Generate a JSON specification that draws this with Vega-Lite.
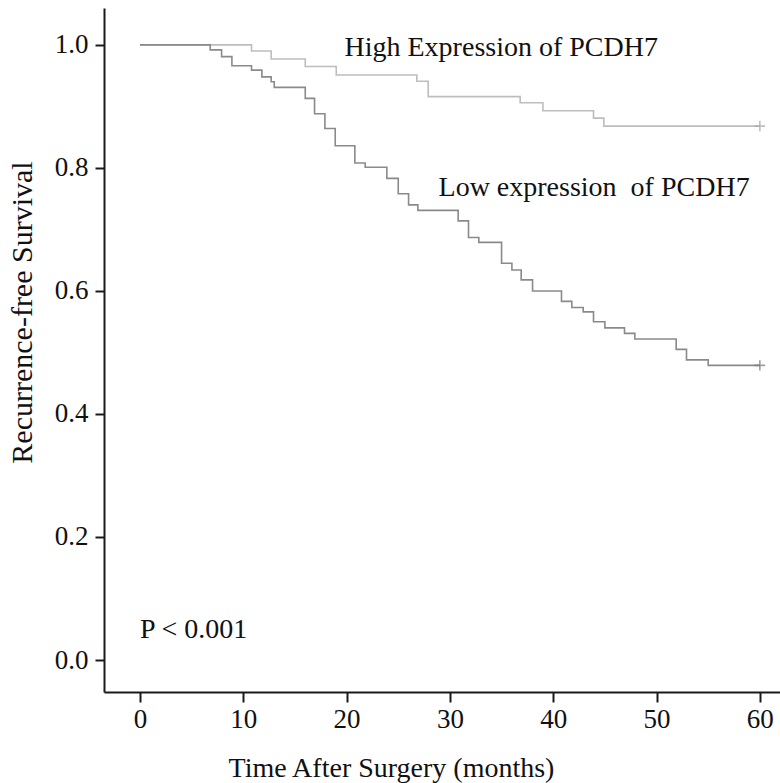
{
  "$schema": "https://vega.github.io/schema/vega-lite/v6.json",
  "width": 676,
  "height": 684,
  "autosize": {"type": "none"},
  "padding": {"left": 104, "top": 8, "right": 0, "bottom": 91},
  "background": "white",
  "config": {
    "view": {"stroke": null},
    "font": "Liberation Serif",
    "axis": {"grid": false, "domainColor": "#1a1a1a", "domainWidth": 2, "tickColor": "#1a1a1a", "tickWidth": 2, "labelFont": "Liberation Serif", "titleFont": "Liberation Serif", "labelColor": "#111", "titleColor": "#111", "labelFontSize": 27, "titleFontSize": 28, "titleFontWeight": "normal"}
  },
  "datasets": {
    "curves": [
      {"group": "High", "time": 0, "surv": 1.0},
      {"group": "High", "time": 10.8, "surv": 0.990},
      {"group": "High", "time": 12.7, "surv": 0.977},
      {"group": "High", "time": 16.0, "surv": 0.965},
      {"group": "High", "time": 19.0, "surv": 0.951},
      {"group": "High", "time": 26.8, "surv": 0.941},
      {"group": "High", "time": 27.9, "surv": 0.916},
      {"group": "High", "time": 36.8, "surv": 0.906},
      {"group": "High", "time": 39.0, "surv": 0.893},
      {"group": "High", "time": 43.9, "surv": 0.881},
      {"group": "High", "time": 44.9, "surv": 0.868},
      {"group": "High", "time": 60, "surv": 0.868},
      {"group": "Low", "time": 0, "surv": 1.0},
      {"group": "Low", "time": 6.8, "surv": 0.992},
      {"group": "Low", "time": 7.9, "surv": 0.981},
      {"group": "Low", "time": 8.9, "surv": 0.966},
      {"group": "Low", "time": 10.8, "surv": 0.959},
      {"group": "Low", "time": 11.8, "surv": 0.948},
      {"group": "Low", "time": 12.7, "surv": 0.940},
      {"group": "Low", "time": 13.0, "surv": 0.931},
      {"group": "Low", "time": 16.0, "surv": 0.913},
      {"group": "Low", "time": 16.9, "surv": 0.888},
      {"group": "Low", "time": 17.9, "surv": 0.864},
      {"group": "Low", "time": 18.9, "surv": 0.836},
      {"group": "Low", "time": 20.8, "surv": 0.808},
      {"group": "Low", "time": 21.8, "surv": 0.801},
      {"group": "Low", "time": 23.9, "surv": 0.783},
      {"group": "Low", "time": 25.0, "surv": 0.758},
      {"group": "Low", "time": 26.0, "surv": 0.740},
      {"group": "Low", "time": 26.9, "surv": 0.731},
      {"group": "Low", "time": 30.8, "surv": 0.714},
      {"group": "Low", "time": 31.8, "surv": 0.687},
      {"group": "Low", "time": 32.8, "surv": 0.679},
      {"group": "Low", "time": 35.0, "surv": 0.645},
      {"group": "Low", "time": 36.0, "surv": 0.634},
      {"group": "Low", "time": 36.9, "surv": 0.618},
      {"group": "Low", "time": 38.0, "surv": 0.600},
      {"group": "Low", "time": 40.8, "surv": 0.583},
      {"group": "Low", "time": 41.8, "surv": 0.573},
      {"group": "Low", "time": 42.9, "surv": 0.566},
      {"group": "Low", "time": 43.9, "surv": 0.550},
      {"group": "Low", "time": 45.0, "surv": 0.540},
      {"group": "Low", "time": 46.9, "surv": 0.531},
      {"group": "Low", "time": 47.9, "surv": 0.522},
      {"group": "Low", "time": 51.9, "surv": 0.505},
      {"group": "Low", "time": 52.9, "surv": 0.488},
      {"group": "Low", "time": 55.0, "surv": 0.479},
      {"group": "Low", "time": 60, "surv": 0.479}
    ],
    "censors": [
      {"group": "High", "time": 60, "surv": 0.868},
      {"group": "Low", "time": 60, "surv": 0.479}
    ],
    "labels": [
      {"label": "High Expression of PCDH7", "time": 19.8, "surv": 0.995},
      {"label": "Low expression\u00a0 of PCDH7", "time": 28.9, "surv": 0.767},
      {"label": "P < 0.001", "time": 0, "surv": 0.049}
    ]
  },
  "layer": [
    {
      "data": {"name": "curves"},
      "mark": {"type": "line", "interpolate": "step-after", "strokeWidth": 1.6},
      "encoding": {
        "x": {"field": "time", "type": "quantitative", "scale": {"domain": [-3.48, 61.95], "nice": false, "zero": false}, "axis": {"values": [0, 10, 20, 30, 40, 50, 60], "format": "d", "labelFontSize": 27, "labelFont": "Liberation Serif", "tickSize": 10, "labelPadding": 4, "title": "Time After Surgery (months)", "titleX": 287, "titleY": 76, "titleBaseline": "middle", "titleAlign": "center"}},
        "y": {"field": "surv", "type": "quantitative", "scale": {"domain": [-0.052, 1.06], "nice": false, "zero": false}, "axis": {"values": [0, 0.2, 0.4, 0.6, 0.8, 1.0], "format": ".1f", "labelFontSize": 27, "labelFont": "Liberation Serif", "tickSize": 9, "labelPadding": 7, "title": "Recurrence-free Survival", "titleFontSize": 30, "titleX": -82, "titleY": 304, "titleAngle": -90, "titleBaseline": "middle", "titleAlign": "center"}},
        "color": {"field": "group", "type": "nominal", "scale": {"domain": ["High", "Low"], "range": ["#bdbdbd", "#8a8a8a"]}, "legend": null}
      }
    },
    {
      "data": {"name": "censors"},
      "mark": {"type": "point", "shape": "M-1,0H1M0,-1V1", "filled": false, "size": 110, "strokeWidth": 1.6},
      "encoding": {
        "x": {"field": "time", "type": "quantitative"},
        "y": {"field": "surv", "type": "quantitative"},
        "color": {"field": "group", "type": "nominal", "scale": {"domain": ["High", "Low"], "range": ["#a8a8a8", "#777777"]}, "legend": null}
      }
    },
    {
      "data": {"name": "labels"},
      "mark": {"type": "text", "align": "left", "baseline": "middle", "font": "Liberation Serif", "fontSize": 28, "color": "#111"},
      "encoding": {
        "x": {"field": "time", "type": "quantitative"},
        "y": {"field": "surv", "type": "quantitative"},
        "text": {"field": "label", "type": "nominal"}
      }
    }
  ],
  "resolve": {"scale": {"color": "independent"}}
}
